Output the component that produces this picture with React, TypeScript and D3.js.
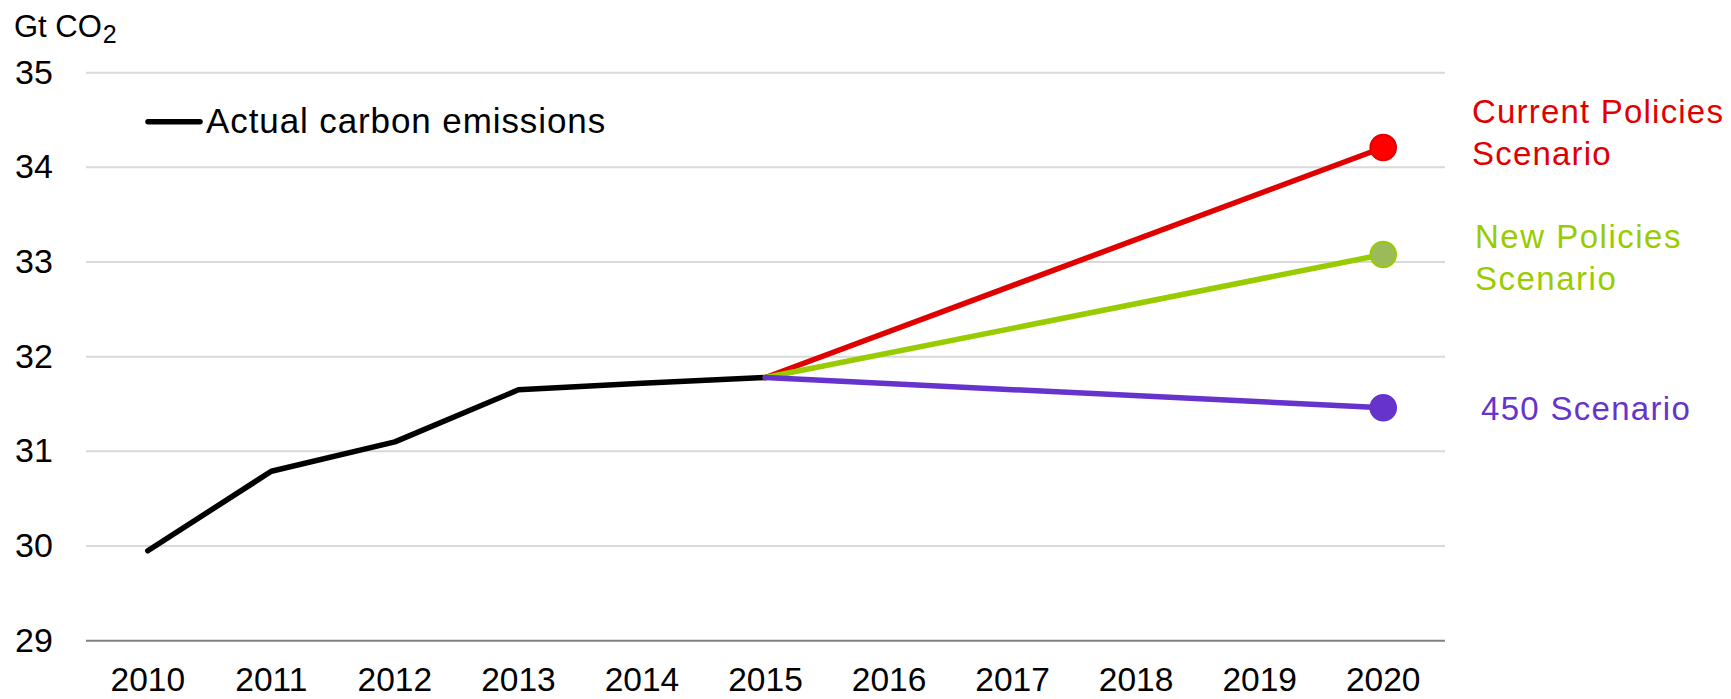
import { useMemo } from 'react';
import * as d3 from 'd3';

const years = ['2010', '2011', '2012', '2013', '2014', '2015', '2016', '2017', '2018', '2019', '2020'];
const yTicks = [29, 30, 31, 32, 33, 34, 35];

// actual emissions 2010-2015
const actualYears = ['2010', '2011', '2012', '2013', '2014', '2015'];
const actualValues = [29.95, 30.79, 31.1, 31.65, 31.72, 31.78];

// scenarios: 2015 -> 2020
const scenarioYears = ['2015', '2020'];
const currentPolicies = [31.78, 34.21];
const newPolicies = [31.78, 33.08];
const scenario450 = [31.78, 31.46];

const W = 1731;
const H = 699;
const font = '"Liberation Sans", Arial, sans-serif';

export default function App() {
  const x = useMemo(() => d3.scalePoint<string>().domain(years).range([86, 1445]).padding(0.5), []);
  const y = useMemo(() => d3.scaleLinear().domain([29, 35]).range([640.7, 72.7]), []);

  const line = d3.line<[string, number]>()
    .x(d => x(d[0]) as number)
    .y(d => y(d[1]));

  const actual = actualYears.map((yr, i) => [yr, actualValues[i]] as [string, number]);

  const scenarios = [
    { name: 'current', values: currentPolicies, stroke: '#e00000', fill: '#ff0000', dot: '#e00000' },
    { name: 'new', values: newPolicies, stroke: '#99cc00', fill: '#9bbb59', dot: '#99cc00' },
    { name: '450', values: scenario450, stroke: '#6633cc', fill: '#6633cc', dot: '#6633cc' },
  ];

  return (
    <svg width={W} height={H} style={{ position: 'absolute', left: 0, top: 0, background: '#fff' }} fontFamily={font}>
      {/* gridlines */}
      {yTicks.map(t => (
        <line key={t} x1={86} x2={1445} y1={y(t)} y2={y(t)}
          stroke={t === 29 ? '#808080' : '#d9d9d9'} strokeWidth={2} />
      ))}
      {/* y labels */}
      {yTicks.map(t => (
        <text key={'l' + t} x={15} y={y(t) + 11} fontSize={34} fill="#000">{t}</text>
      ))}
      <text x={14} y={37} fontSize={31} fill="#000">Gt CO<tspan fontSize={25} dx={1} dy={6}>2</tspan></text>
      {/* x labels */}
      {years.map(yr => (
        <text key={yr} x={x(yr)} y={691} fontSize={33.5} textAnchor="middle" fill="#000">{yr}</text>
      ))}

      {/* actual line */}
      <path d={line(actual) ?? ''} fill="none" stroke="#000" strokeWidth={5.5}
        strokeLinecap="round" strokeLinejoin="round" />

      {/* scenario lines */}
      {scenarios.map(s => (
        <path key={s.name}
          d={line(scenarioYears.map((yr, i) => [yr, s.values[i]] as [string, number])) ?? ''}
          fill="none" stroke={s.stroke} strokeWidth={5.5} strokeLinecap="round" />
      ))}
      {scenarios.map(s => (
        <circle key={'c' + s.name} cx={x('2020')} cy={y(s.values[1])} r={12.8}
          fill={s.fill} stroke={s.dot} strokeWidth={2} />
      ))}

      {/* legend */}
      <line x1={148} x2={200} y1={121.7} y2={121.7} stroke="#000" strokeWidth={5.5} strokeLinecap="round" />
      <text x={206} y={133} fontSize={35} letterSpacing={0.9} fill="#000">Actual carbon emissions</text>

      {/* scenario labels */}
      <text x={1472} y={123} fontSize={33} letterSpacing={1.2} fill="#e00000">
        <tspan x={1472}>Current Policies</tspan>
        <tspan x={1472} dy={42}>Scenario</tspan>
      </text>
      <text x={1475} y={248} fontSize={33} letterSpacing={1.5} fill="#99cc00">
        <tspan x={1475}>New Policies</tspan>
        <tspan x={1475} dy={42}>Scenario</tspan>
      </text>
      <text x={1481} y={420} fontSize={33} letterSpacing={1.3} fill="#6633cc">450 Scenario</text>
    </svg>
  );
}
